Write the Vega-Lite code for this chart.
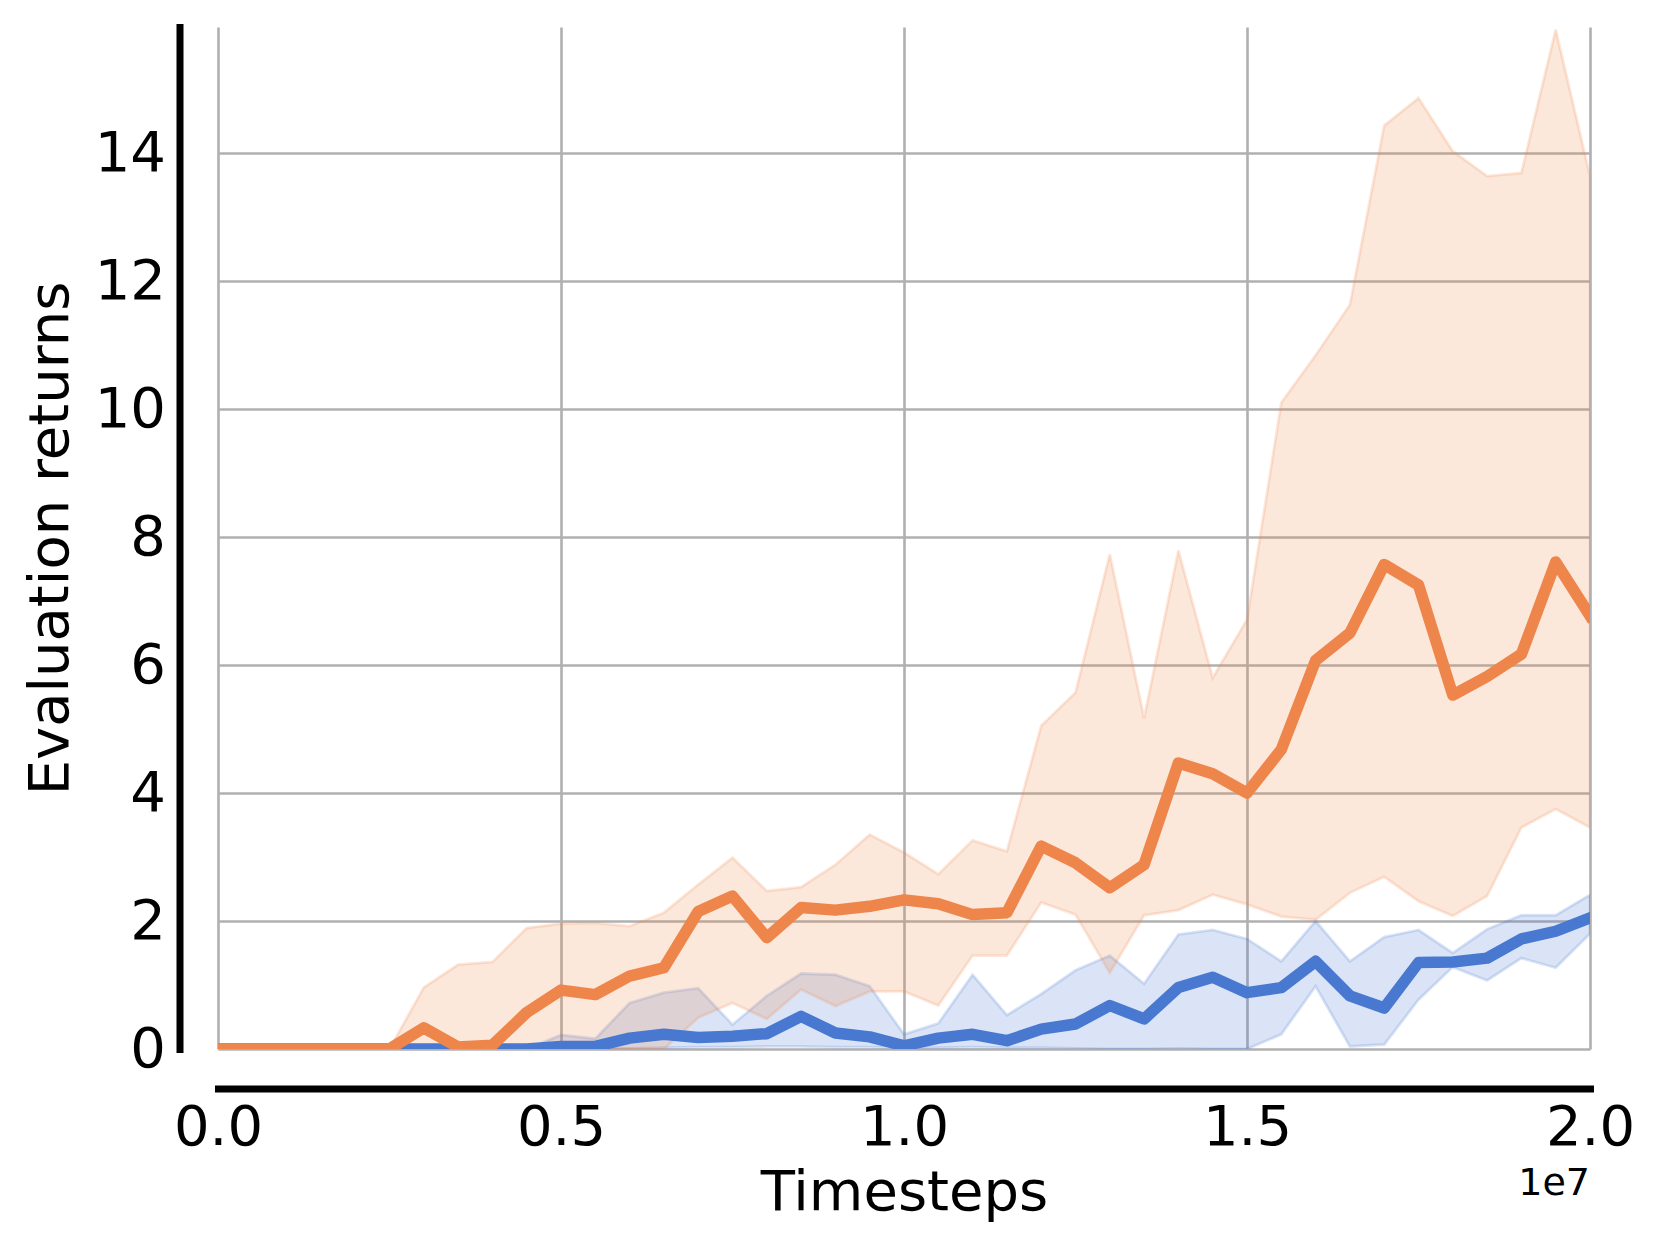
{
  "$schema": "https://vega.github.io/schema/vega-lite/v6.json",
  "autosize": {"type": "none"},
  "padding": {"left": 218, "top": 27, "right": 72, "bottom": 201},
  "width": 1372,
  "height": 1022,
  "background": "white",
  "config": {"view": {"stroke": null}, "font": "DejaVu Sans"},
  "datasets": {
    "runs": [
      {"step": 0, "algo": "orange", "mean": 0, "lo": 0, "hi": 0},
      {"step": 500000, "algo": "orange", "mean": 0, "lo": 0, "hi": 0},
      {"step": 1000000, "algo": "orange", "mean": 0, "lo": 0, "hi": 0},
      {"step": 1500000, "algo": "orange", "mean": 0, "lo": 0, "hi": 0},
      {"step": 2000000, "algo": "orange", "mean": 0, "lo": 0, "hi": 0},
      {"step": 2500000, "algo": "orange", "mean": 0, "lo": 0, "hi": 0},
      {"step": 3000000, "algo": "orange", "mean": 0.33, "lo": 0, "hi": 0.96},
      {"step": 3500000, "algo": "orange", "mean": 0.03, "lo": 0, "hi": 1.32},
      {"step": 4000000, "algo": "orange", "mean": 0.06, "lo": 0, "hi": 1.36},
      {"step": 4500000, "algo": "orange", "mean": 0.57, "lo": 0, "hi": 1.89},
      {"step": 5000000, "algo": "orange", "mean": 0.92, "lo": 0, "hi": 1.96},
      {"step": 5500000, "algo": "orange", "mean": 0.85, "lo": 0, "hi": 1.97},
      {"step": 6000000, "algo": "orange", "mean": 1.14, "lo": 0, "hi": 1.92},
      {"step": 6500000, "algo": "orange", "mean": 1.27, "lo": 0, "hi": 2.13},
      {"step": 7000000, "algo": "orange", "mean": 2.15, "lo": 0.49, "hi": 2.57},
      {"step": 7500000, "algo": "orange", "mean": 2.39, "lo": 0.72, "hi": 2.99},
      {"step": 8000000, "algo": "orange", "mean": 1.74, "lo": 0.47, "hi": 2.47},
      {"step": 8500000, "algo": "orange", "mean": 2.21, "lo": 0.93, "hi": 2.53},
      {"step": 9000000, "algo": "orange", "mean": 2.17, "lo": 0.67, "hi": 2.88},
      {"step": 9500000, "algo": "orange", "mean": 2.23, "lo": 0.9, "hi": 3.35},
      {"step": 10000000, "algo": "orange", "mean": 2.33, "lo": 0.9, "hi": 3.07},
      {"step": 10500000, "algo": "orange", "mean": 2.27, "lo": 0.68, "hi": 2.73},
      {"step": 11000000, "algo": "orange", "mean": 2.1, "lo": 1.46, "hi": 3.26},
      {"step": 11500000, "algo": "orange", "mean": 2.13, "lo": 1.46, "hi": 3.09},
      {"step": 12000000, "algo": "orange", "mean": 3.17, "lo": 2.29, "hi": 5.05},
      {"step": 12500000, "algo": "orange", "mean": 2.91, "lo": 2.1, "hi": 5.57},
      {"step": 13000000, "algo": "orange", "mean": 2.52, "lo": 1.19, "hi": 7.73},
      {"step": 13500000, "algo": "orange", "mean": 2.88, "lo": 2.09, "hi": 5.17},
      {"step": 14000000, "algo": "orange", "mean": 4.47, "lo": 2.17, "hi": 7.79},
      {"step": 14500000, "algo": "orange", "mean": 4.3, "lo": 2.41, "hi": 5.8},
      {"step": 15000000, "algo": "orange", "mean": 4.0, "lo": 2.26, "hi": 6.71},
      {"step": 15500000, "algo": "orange", "mean": 4.68, "lo": 2.07, "hi": 10.1},
      {"step": 16000000, "algo": "orange", "mean": 6.07, "lo": 2.02, "hi": 10.84},
      {"step": 16500000, "algo": "orange", "mean": 6.5, "lo": 2.44, "hi": 11.63},
      {"step": 17000000, "algo": "orange", "mean": 7.57, "lo": 2.69, "hi": 14.43},
      {"step": 17500000, "algo": "orange", "mean": 7.25, "lo": 2.31, "hi": 14.86},
      {"step": 18000000, "algo": "orange", "mean": 5.53, "lo": 2.08, "hi": 14.03},
      {"step": 18500000, "algo": "orange", "mean": 5.82, "lo": 2.39, "hi": 13.64},
      {"step": 19000000, "algo": "orange", "mean": 6.17, "lo": 3.46, "hi": 13.69},
      {"step": 19500000, "algo": "orange", "mean": 7.61, "lo": 3.75, "hi": 15.93},
      {"step": 20000000, "algo": "orange", "mean": 6.77, "lo": 3.46, "hi": 13.64},
      {"step": 0, "algo": "blue", "mean": 0, "lo": 0, "hi": 0},
      {"step": 500000, "algo": "blue", "mean": 0, "lo": 0, "hi": 0},
      {"step": 1000000, "algo": "blue", "mean": 0, "lo": 0, "hi": 0},
      {"step": 1500000, "algo": "blue", "mean": 0, "lo": 0, "hi": 0},
      {"step": 2000000, "algo": "blue", "mean": 0, "lo": 0, "hi": 0},
      {"step": 2500000, "algo": "blue", "mean": 0, "lo": 0, "hi": 0},
      {"step": 3000000, "algo": "blue", "mean": 0, "lo": 0, "hi": 0},
      {"step": 3500000, "algo": "blue", "mean": 0, "lo": 0, "hi": 0},
      {"step": 4000000, "algo": "blue", "mean": 0, "lo": 0, "hi": 0},
      {"step": 4500000, "algo": "blue", "mean": 0, "lo": 0, "hi": 0},
      {"step": 5000000, "algo": "blue", "mean": 0.04, "lo": 0, "hi": 0.22},
      {"step": 5500000, "algo": "blue", "mean": 0.04, "lo": 0, "hi": 0.16},
      {"step": 6000000, "algo": "blue", "mean": 0.17, "lo": 0.01, "hi": 0.72},
      {"step": 6500000, "algo": "blue", "mean": 0.23, "lo": 0.02, "hi": 0.88},
      {"step": 7000000, "algo": "blue", "mean": 0.18, "lo": 0.03, "hi": 0.95},
      {"step": 7500000, "algo": "blue", "mean": 0.2, "lo": 0.03, "hi": 0.38},
      {"step": 8000000, "algo": "blue", "mean": 0.24, "lo": 0.04, "hi": 0.83},
      {"step": 8500000, "algo": "blue", "mean": 0.51, "lo": 0.04, "hi": 1.18},
      {"step": 9000000, "algo": "blue", "mean": 0.25, "lo": 0.03, "hi": 1.16},
      {"step": 9500000, "algo": "blue", "mean": 0.19, "lo": 0.03, "hi": 0.98},
      {"step": 10000000, "algo": "blue", "mean": 0.05, "lo": 0.02, "hi": 0.23},
      {"step": 10500000, "algo": "blue", "mean": 0.17, "lo": 0.02, "hi": 0.4},
      {"step": 11000000, "algo": "blue", "mean": 0.23, "lo": 0.03, "hi": 1.16},
      {"step": 11500000, "algo": "blue", "mean": 0.13, "lo": 0.02, "hi": 0.53},
      {"step": 12000000, "algo": "blue", "mean": 0.31, "lo": 0.02, "hi": 0.86},
      {"step": 12500000, "algo": "blue", "mean": 0.39, "lo": 0.01, "hi": 1.23},
      {"step": 13000000, "algo": "blue", "mean": 0.68, "lo": 0, "hi": 1.46},
      {"step": 13500000, "algo": "blue", "mean": 0.47, "lo": 0, "hi": 1.02},
      {"step": 14000000, "algo": "blue", "mean": 0.96, "lo": 0.01, "hi": 1.79},
      {"step": 14500000, "algo": "blue", "mean": 1.12, "lo": 0, "hi": 1.86},
      {"step": 15000000, "algo": "blue", "mean": 0.88, "lo": 0, "hi": 1.72},
      {"step": 15500000, "algo": "blue", "mean": 0.96, "lo": 0.23, "hi": 1.37},
      {"step": 16000000, "algo": "blue", "mean": 1.37, "lo": 0.98, "hi": 2.0},
      {"step": 16500000, "algo": "blue", "mean": 0.83, "lo": 0.04, "hi": 1.37},
      {"step": 17000000, "algo": "blue", "mean": 0.64, "lo": 0.07, "hi": 1.75},
      {"step": 17500000, "algo": "blue", "mean": 1.35, "lo": 0.77, "hi": 1.86},
      {"step": 18000000, "algo": "blue", "mean": 1.36, "lo": 1.28, "hi": 1.5},
      {"step": 18500000, "algo": "blue", "mean": 1.42, "lo": 1.07, "hi": 1.87},
      {"step": 19000000, "algo": "blue", "mean": 1.72, "lo": 1.42, "hi": 2.09},
      {"step": 19500000, "algo": "blue", "mean": 1.84, "lo": 1.27, "hi": 2.09},
      {"step": 20000000, "algo": "blue", "mean": 2.05, "lo": 1.8, "hi": 2.41}
    ]
  },
  "data": {"name": "runs"},
  "layer": [
    {
      "transform": [{"filter": "datum.algo === 'blue'"}],
      "mark": {"type": "area", "fill": "#4878d0", "fillOpacity": 0.2, "stroke": "#4878d0", "strokeOpacity": 0.2, "strokeWidth": 2.8, "clip": true},
      "encoding": {
        "x": {
          "field": "step", "type": "quantitative",
          "scale": {"domain": [0, 20000000], "nice": false, "zero": false},
          "axis": {
            "title": "Timesteps",
            "values": [0, 5000000, 10000000, 15000000, 20000000],
            "labelExpr": "format(datum.value / 10000000, '.1f')",
            "offset": 39.5,
            "domainColor": "black", "domainWidth": 7, "domainCap": "square",
            "ticks": false,
            "labelFont": "DejaVu Sans", "labelFontSize": 56, "labelColor": "black", "labelPadding": 12,
            "labelFlush": false, "labelOverlap": false,
            "titleFont": "DejaVu Sans", "titleFontSize": 56, "titleFontWeight": "normal", "titleColor": "black", "titlePadding": 10,
            "grid": true, "gridColor": "#b0b0b0", "gridWidth": 2.6
          }
        },
        "y": {
          "field": "hi", "type": "quantitative",
          "scale": {"domain": [0, 15.97], "nice": false, "zero": false},
          "axis": {
            "title": "Evaluation returns",
            "values": [0, 2, 4, 6, 8, 10, 12, 14],
            "format": "d",
            "offset": 38.5,
            "domainColor": "black", "domainWidth": 7, "domainCap": "square",
            "ticks": false,
            "labelFont": "DejaVu Sans", "labelFontSize": 56, "labelColor": "black", "labelPadding": 14,
            "labelFlush": false, "labelOverlap": false,
            "titleFont": "DejaVu Sans", "titleFontSize": 56, "titleFontWeight": "normal", "titleColor": "black", "titlePadding": 15,
            "grid": true, "gridColor": "#b0b0b0", "gridWidth": 2.6
          }
        },
        "y2": {"field": "lo"}
      }
    },
    {
      "transform": [{"filter": "datum.algo === 'orange'"}],
      "mark": {"type": "area", "fill": "#ee854a", "fillOpacity": 0.2, "stroke": "#ee854a", "strokeOpacity": 0.2, "strokeWidth": 2.8, "clip": true},
      "encoding": {
        "x": {"field": "step", "type": "quantitative"},
        "y": {"field": "hi", "type": "quantitative"},
        "y2": {"field": "lo"}
      }
    },
    {
      "transform": [{"filter": "datum.algo === 'blue'"}],
      "mark": {"type": "line", "color": "#4878d0", "strokeWidth": 11.5, "strokeJoin": "round", "strokeCap": "square", "clip": true},
      "encoding": {
        "x": {"field": "step", "type": "quantitative"},
        "y": {"field": "mean", "type": "quantitative"}
      }
    },
    {
      "transform": [{"filter": "datum.algo === 'orange'"}],
      "mark": {"type": "line", "color": "#ee854a", "strokeWidth": 11.5, "strokeJoin": "round", "strokeCap": "square", "clip": true},
      "encoding": {
        "x": {"field": "step", "type": "quantitative"},
        "y": {"field": "mean", "type": "quantitative"}
      }
    },
    {
      "data": {"values": [{"label": "1e7"}]},
      "mark": {"type": "text", "align": "right", "baseline": "alphabetic", "dy": 145.5, "fontSize": 38, "font": "DejaVu Sans", "color": "black", "clip": false},
      "encoding": {
        "x": {"datum": 20000000, "type": "quantitative"},
        "y": {"datum": 0, "type": "quantitative"},
        "text": {"field": "label"}
      }
    }
  ]
}
